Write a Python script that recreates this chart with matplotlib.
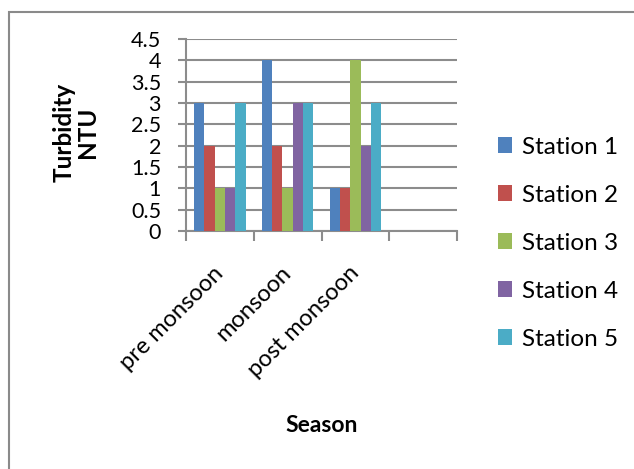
import matplotlib
matplotlib.use("Agg")
import matplotlib.pyplot as plt
from matplotlib.patches import Rectangle
import numpy as np

seasons = ["pre monsoon", "monsoon", "post monsoon", ""]
stations = ["Station 1", "Station 2", "Station 3", "Station 4", "Station 5"]
station_1 = [3, 4, 1]
station_2 = [2, 2, 1]
station_3 = [1, 1, 4]
station_4 = [1, 3, 2]
station_5 = [3, 3, 3]
yticks = [0, 0.5, 1, 1.5, 2, 2.5, 3, 3.5, 4, 4.5]
ytick_labels = ["0", "0.5", "1", "1.5", "2", "2.5", "3", "3.5", "4", "4.5"]

series = [station_1, station_2, station_3, station_4, station_5]
colors = ["#4F81BD", "#C0504D", "#9BBB59", "#8064A2", "#4BACC6"]

plt.rcParams["font.family"] = ["Lato", "DejaVu Sans"]
grid_col = "#8c8c8c"
fs = 17.5

fig = plt.figure(figsize=(6.34, 4.69), dpi=100)
fig.patches.append(Rectangle((9 / 634, -0.1), 1.2, 1 - 12 / 469 + 0.1,
                             transform=fig.transFigure, fill=False,
                             edgecolor="#8a8a8a", linewidth=1.5))

ax = fig.add_axes([186 / 634, 1 - 231 / 469, 271 / 634, 192 / 469])

bar_w = 0.1526
n = len(series)
for i, (vals, col, name) in enumerate(zip(series, colors, stations)):
    centers = np.arange(len(vals)) + 0.5
    offs = (i - (n - 1) / 2) * bar_w
    ax.bar(centers + offs, vals, width=bar_w, color=col, label=name,
           zorder=3, linewidth=0)

ax.set_xlim(0, len(seasons))
ax.set_ylim(0, 4.5)
ax.set_yticks(yticks)
ax.set_yticklabels(ytick_labels, fontsize=15.5)
ax.yaxis.grid(True, color=grid_col, linewidth=1.5, zorder=0)
ax.tick_params(axis="y", length=6, color=grid_col, width=1.5, pad=12)

ax.set_xticks(np.arange(len(seasons)) + 0.5)
ax.set_xticklabels(seasons, rotation=45, ha="right", va="center",
                   rotation_mode="anchor", fontsize=17)
ax.tick_params(axis="x", which="major", length=0, pad=28)
ax.set_xticks(np.arange(len(seasons) + 1), minor=True)
ax.tick_params(axis="x", which="minor", length=7, color=grid_col, width=1.5)

for side in ["top", "right"]:
    ax.spines[side].set_visible(False)
for side in ["left", "bottom"]:
    ax.spines[side].set_color(grid_col)
    ax.spines[side].set_linewidth(1.5)

fig.text(76 / 634, 1 - 132 / 469, "Turbidity\nNTU", rotation=90,
         ha="center", va="center", fontsize=17.5, fontweight="bold",
         linespacing=1.05)
fig.text(322 / 634, 1 - 425 / 469, "Season", ha="center", va="center",
         fontsize=16.5, fontweight="bold")

handles, labels = ax.get_legend_handles_labels()
fig.legend(handles, labels, loc="upper left",
           bbox_to_anchor=(488 / 634, 1 - 127 / 469), frameon=False,
           fontsize=fs, handlelength=0.6, handleheight=0.6,
           handletextpad=0.4, labelspacing=1.11, borderaxespad=0)

fig.savefig("out.png", dpi=100)
